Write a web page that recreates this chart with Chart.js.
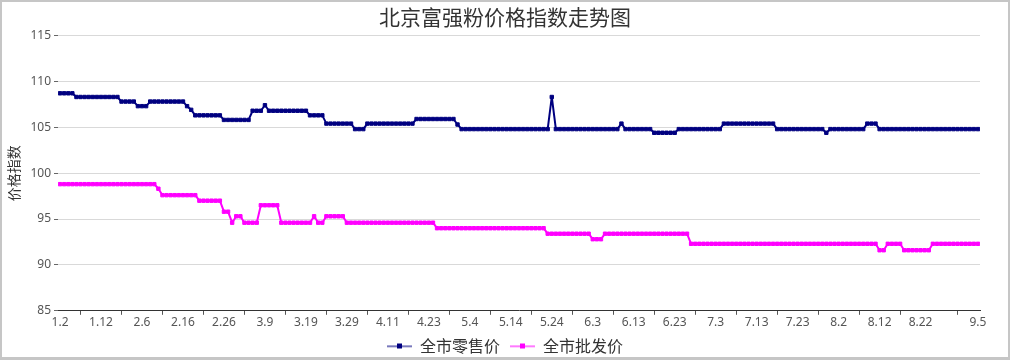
<!DOCTYPE html>
<html>
<head>
<meta charset="utf-8">
<script src="https://cdn.jsdelivr.net/npm/chart.js@4.4.1/dist/chart.umd.min.js"></script>
<style>
  html, body { margin: 0; padding: 0; background: #fff; }
  #wrap { position: relative; width: 1010px; height: 360px; }
  #c { position: absolute; left: 0; top: 0; }
  #frame { position: absolute; left: 0; top: 0; width: 1010px; height: 360px; box-sizing: border-box;
           border: 2px solid #c6c6c6; border-bottom-width: 3px; pointer-events: none; }
</style>
</head>
<body>
<div id="wrap">
  <canvas id="c" width="1010" height="360"></canvas>
  <div id="frame"></div>
</div>
<script>
const chartTitle = '北京富强粉价格指数走势图';
const yTitle = '价格指数';
const seriesNames = ['全市零售价', '全市批发价'];
const seriesColors = ['#000080', '#ff00ff'];

// x-axis tick labels and the data index each label sits on
const tickLabels = ['1.2','1.12','2.6','2.16','2.26','3.9','3.19','3.29','4.11','4.23','5.4','5.14','5.24','6.3','6.13','6.23','7.3','7.13','7.23','8.2','8.12','8.22','9.5'];
const tickLabelIndex = [0,10,20,30,40,50,60,70,80,90,100,110,120,130,140,150,160,170,180,190,200,210,224];
// positions of the small x-axis tick marks (between labels)
const tickMarkIndex = [5,15,25,35,45,55,65,75,85,95,105,115,125,135,145,155,165,175,185,195,205,219];

const yTicks = [85, 90, 95, 100, 105, 110, 115];

// 全市零售价 (retail index), one value per trading day
const retail = [
  108.7,108.7,108.7,108.7,108.3,108.3,108.3,108.3,108.3,108.3,
  108.3,108.3,108.3,108.3,108.3,107.8,107.8,107.8,107.8,107.3,
  107.3,107.3,107.8,107.8,107.8,107.8,107.8,107.8,107.8,107.8,
  107.8,107.3,106.9,106.3,106.3,106.3,106.3,106.3,106.3,106.3,
  105.8,105.8,105.8,105.8,105.8,105.8,105.8,106.8,106.8,106.8,
  107.4,106.8,106.8,106.8,106.8,106.8,106.8,106.8,106.8,106.8,
  106.8,106.3,106.3,106.3,106.3,105.4,105.4,105.4,105.4,105.4,
  105.4,105.4,104.8,104.8,104.8,105.4,105.4,105.4,105.4,105.4,
  105.4,105.4,105.4,105.4,105.4,105.4,105.4,105.9,105.9,105.9,
  105.9,105.9,105.9,105.9,105.9,105.9,105.9,105.3,104.8,104.8,
  104.8,104.8,104.8,104.8,104.8,104.8,104.8,104.8,104.8,104.8,
  104.8,104.8,104.8,104.8,104.8,104.8,104.8,104.8,104.8,104.8,
  108.3,104.8,104.8,104.8,104.8,104.8,104.8,104.8,104.8,104.8,
  104.8,104.8,104.8,104.8,104.8,104.8,104.8,105.4,104.8,104.8,
  104.8,104.8,104.8,104.8,104.8,104.4,104.4,104.4,104.4,104.4,
  104.4,104.8,104.8,104.8,104.8,104.8,104.8,104.8,104.8,104.8,
  104.8,104.8,105.4,105.4,105.4,105.4,105.4,105.4,105.4,105.4,
  105.4,105.4,105.4,105.4,105.4,104.8,104.8,104.8,104.8,104.8,
  104.8,104.8,104.8,104.8,104.8,104.8,104.8,104.4,104.8,104.8,
  104.8,104.8,104.8,104.8,104.8,104.8,104.8,105.4,105.4,105.4,
  104.8,104.8,104.8,104.8,104.8,104.8,104.8,104.8,104.8,104.8,
  104.8,104.8,104.8,104.8,104.8,104.8,104.8,104.8,104.8,104.8,
  104.8,104.8,104.8,104.8,104.8
];

// 全市批发价 (wholesale index)
const wholesale = [
  98.8,98.8,98.8,98.8,98.8,98.8,98.8,98.8,98.8,98.8,
  98.8,98.8,98.8,98.8,98.8,98.8,98.8,98.8,98.8,98.8,
  98.8,98.8,98.8,98.8,98.3,97.6,97.6,97.6,97.6,97.6,
  97.6,97.6,97.6,97.6,97.0,97.0,97.0,97.0,97.0,97.0,
  95.8,95.8,94.6,95.3,95.3,94.6,94.6,94.6,94.6,96.5,
  96.5,96.5,96.5,96.5,94.6,94.6,94.6,94.6,94.6,94.6,
  94.6,94.6,95.3,94.6,94.6,95.3,95.3,95.3,95.3,95.3,
  94.6,94.6,94.6,94.6,94.6,94.6,94.6,94.6,94.6,94.6,
  94.6,94.6,94.6,94.6,94.6,94.6,94.6,94.6,94.6,94.6,
  94.6,94.6,94.0,94.0,94.0,94.0,94.0,94.0,94.0,94.0,
  94.0,94.0,94.0,94.0,94.0,94.0,94.0,94.0,94.0,94.0,
  94.0,94.0,94.0,94.0,94.0,94.0,94.0,94.0,94.0,93.4,
  93.4,93.4,93.4,93.4,93.4,93.4,93.4,93.4,93.4,93.4,
  92.8,92.8,92.8,93.4,93.4,93.4,93.4,93.4,93.4,93.4,
  93.4,93.4,93.4,93.4,93.4,93.4,93.4,93.4,93.4,93.4,
  93.4,93.4,93.4,93.4,92.3,92.3,92.3,92.3,92.3,92.3,
  92.3,92.3,92.3,92.3,92.3,92.3,92.3,92.3,92.3,92.3,
  92.3,92.3,92.3,92.3,92.3,92.3,92.3,92.3,92.3,92.3,
  92.3,92.3,92.3,92.3,92.3,92.3,92.3,92.3,92.3,92.3,
  92.3,92.3,92.3,92.3,92.3,92.3,92.3,92.3,92.3,92.3,
  91.6,91.6,92.3,92.3,92.3,92.3,91.6,91.6,91.6,91.6,
  91.6,91.6,91.6,92.3,92.3,92.3,92.3,92.3,92.3,92.3,
  92.3,92.3,92.3,92.3,92.3
];

function toPoints(arr) { return arr.map((v, i) => ({ x: i, y: v })); }

function legendSymbol(color) {
  const c = document.createElement('canvas');
  c.width = 25; c.height = 7;
  const g = c.getContext('2d');
  g.globalAlpha = 0.7;
  g.fillStyle = color;
  g.fillRect(0, 3, 25, 1.5);
  g.globalAlpha = 1;
  g.fillRect(10, 1, 5, 5);
  return c;
}
const legendSymbols = seriesColors.map(legendSymbol);

const labelAt = {};
tickLabelIndex.forEach((idx, k) => { labelAt[idx] = tickLabels[k]; });
const allXTicks = tickLabelIndex.concat(tickMarkIndex).sort((a, b) => a - b);

const tickFont = { family: '"Noto Sans", "Noto Sans CJK SC", sans-serif', size: 12 };
const cjkFont = '"Noto Sans CJK SC", "Noto Sans", sans-serif';

function seriesStyle(color) {
  return { borderColor: color, backgroundColor: color, borderWidth: 2, borderJoinStyle: 'round',
           pointStyle: 'rect', pointRadius: 2.4, pointBorderWidth: 1, tension: 0, fill: false };
}

new Chart(document.getElementById('c'), {
  type: 'line',
  data: {
    datasets: [
      Object.assign({ label: seriesNames[0], data: toPoints(retail) }, seriesStyle(seriesColors[0])),
      Object.assign({ label: seriesNames[1], data: toPoints(wholesale) }, seriesStyle(seriesColors[1]))
    ]
  },
  options: {
    responsive: false,
    animation: false,
    devicePixelRatio: 1,
    layout: { padding: { left: 0, right: 0, top: 0, bottom: -4 } },
    plugins: {
      title: { display: true, text: chartTitle, color: '#333',
               font: { family: cjkFont, size: 21, weight: 'normal', lineHeight: 1.2 },
               padding: { top: 4, bottom: 6.3 } },
      legend: {
        display: true, position: 'bottom',
        labels: {
          usePointStyle: true, pointStyleWidth: 25, padding: 10, color: '#333',
          font: { family: cjkFont, size: 16 },
          generateLabels: (chart) => chart.data.datasets.map((ds, i) => ({
            text: ds.label, pointStyle: legendSymbols[i], fillStyle: ds.borderColor,
            strokeStyle: 'transparent', lineWidth: 0, hidden: false, datasetIndex: i, fontColor: '#333'
          }))
        }
      },
      tooltip: { enabled: false }
    },
    scales: {
      x: {
        type: 'linear', min: -0.5, max: 224.5,
        afterBuildTicks: (scale) => { scale.ticks = allXTicks.map(v => ({ value: v })); },
        afterFit: (scale) => { scale.height = 17.2; },
        ticks: { autoSkip: false, maxRotation: 0, minRotation: 0, padding: 1, color: '#555', font: tickFont,
                 callback: (value) => (labelAt[value] !== undefined ? labelAt[value] : '') },
        grid: { drawOnChartArea: false, drawTicks: true, tickLength: 4, tickWidth: 1,
                tickColor: (ctx) => (ctx.tick && labelAt[ctx.tick.value] === undefined ? '#555' : 'rgba(0,0,0,0)') },
        border: { display: true, color: '#333', width: 1 }
      },
      y: {
        min: 85, max: 115,
        afterBuildTicks: (scale) => { scale.ticks = yTicks.map(v => ({ value: v })); },
        afterFit: (scale) => { scale.width = 58; },
        ticks: { padding: 3, color: '#555', font: tickFont },
        grid: { color: (ctx) => (ctx.tick && ctx.tick.value === 85 ? 'rgba(0,0,0,0)' : '#d9d9d9'),
                tickColor: '#666', tickLength: 4, lineWidth: 1 },
        border: { display: false },
        title: { display: true, text: yTitle, color: '#333', font: { family: cjkFont, size: 14 },
                 padding: { top: 5, bottom: 0 } }
      },
      yRightSpace: {
        position: 'right', display: true, min: 85, max: 115,
        afterFit: (scale) => { scale.width = 30; },
        ticks: { display: false }, grid: { display: false, drawOnChartArea: false }, border: { display: false }
      }
    }
  }
});
</script>
</body>
</html>
